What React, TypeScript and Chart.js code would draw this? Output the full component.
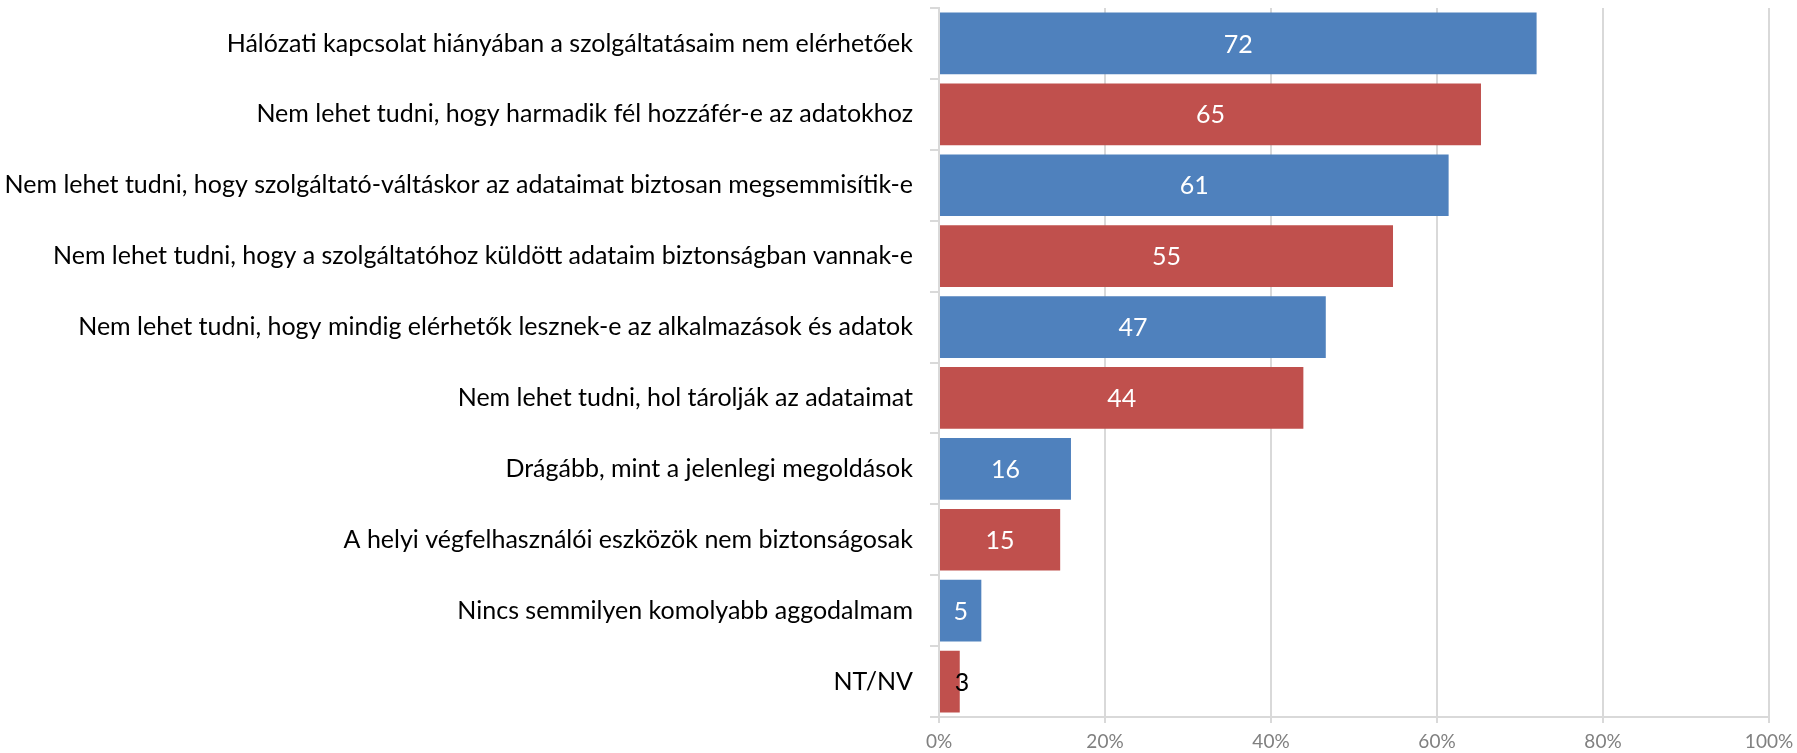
import React, { useEffect, useRef } from "react";
import { Chart, registerables } from "chart.js";

Chart.register(...registerables);

const categories: string[] = [
  "Hálózati kapcsolat hiányában a szolgáltatásaim nem elérhetőek",
  "Nem lehet tudni, hogy harmadik fél hozzáfér-e az adatokhoz",
  "Nem lehet tudni, hogy szolgáltató-váltáskor az adataimat biztosan megsemmisítik-e",
  "Nem lehet tudni, hogy a szolgáltatóhoz küldött adataim biztonságban vannak-e",
  "Nem lehet tudni, hogy mindig elérhetők lesznek-e az alkalmazások és adatok",
  "Nem lehet tudni, hol tárolják az adataimat",
  "Drágább, mint a jelenlegi megoldások",
  "A helyi végfelhasználói eszközök nem biztonságosak",
  "Nincs semmilyen komolyabb aggodalmam",
  "NT/NV",
];
const values: number[] = [72.0, 65.3, 61.4, 54.7, 46.6, 43.9, 15.9, 14.6, 5.1, 2.5];
const valueLabelsText: string[] = ["72", "65", "61", "55", "47", "44", "16", "15", "5", "3"];
const barColors: string[] = ["#4F81BD", "#C0504D"];
const xTicks: number[] = [0, 20, 40, 60, 80, 100];

const FONT = "Lato, 'Open Sans', sans-serif";

const valueLabels = {
  id: "valueLabels",
  afterDatasetsDraw(chart: any) {
    const ctx = chart.ctx;
    const meta = chart.getDatasetMeta(0);
    ctx.save();
    ctx.font = `25px ${FONT}`;
    ctx.textAlign = "center";
    ctx.textBaseline = "middle";
    meta.data.forEach((el: any, i: number) => {
      const w = Math.abs(el.x - el.base);
      const text = valueLabelsText[i];
      const tw = ctx.measureText(text).width;
      let x = (el.x + el.base) / 2;
      if (w < tw + 14) {
        ctx.fillStyle = "#000000";
        x = el.base + 22;
      } else {
        ctx.fillStyle = "#ffffff";
      }
      ctx.fillText(text, x, el.y + 1);
    });
    ctx.restore();
  },
};

export default function App() {
  const ref = useRef<HTMLCanvasElement | null>(null);
  useEffect(() => {
    if (!ref.current) return;
    const chart = new Chart(ref.current, {
      type: "bar",
      data: {
        labels: categories,
        datasets: [
          {
            data: values,
            backgroundColor: values.map((_, i) => barColors[i % 2]),
            borderWidth: 0,
            barPercentage: 0.87,
            categoryPercentage: 1,
          },
        ],
      },
      options: {
        indexAxis: "y",
        animation: false,
        responsive: true,
        maintainAspectRatio: false,
        layout: { padding: { top: 8, right: 28, left: 0, bottom: 0 } },
        plugins: { legend: { display: false }, tooltip: { enabled: false } },
        scales: {
          x: {
            min: 0,
            max: 100,
            afterBuildTicks: (scale: any) => {
              scale.ticks = xTicks.map((v) => ({ value: v }));
            },
            afterFit: (scale: any) => {
              scale.height = 36;
              scale.paddingLeft = 0;
              scale.paddingRight = 0;
            },
            grid: {
              color: "#d9d9d9",
              lineWidth: 2,
              tickLength: 6,
            },
            border: { color: "#d9d9d9", width: 2 },
            ticks: {
              color: "#808080",
              font: { family: FONT, size: 19 },
              padding: 7,
              callback: (v: any) => `${v}%`,
            },
          },
          y: {
            afterFit: (scale: any) => {
              scale.width = 939;
              scale.paddingTop = 0;
              scale.paddingBottom = 0;
            },
            grid: {
              color: "#d9d9d9",
              lineWidth: 2,
              drawOnChartArea: false,
              offset: true,
              tickLength: 9,
            },
            border: { color: "#d9d9d9", width: 2 },
            ticks: {
              color: "#000000",
              font: { family: FONT, size: 25 },
              padding: 17,
              autoSkip: false,
            },
          },
        },
      },
      plugins: [valueLabels],
    });
    return () => chart.destroy();
  }, []);
  return (
    <div style={{ position: "absolute", left: 0, top: 0, width: "1797px", height: "753px" }}>
      <canvas ref={ref} />
    </div>
  );
}
